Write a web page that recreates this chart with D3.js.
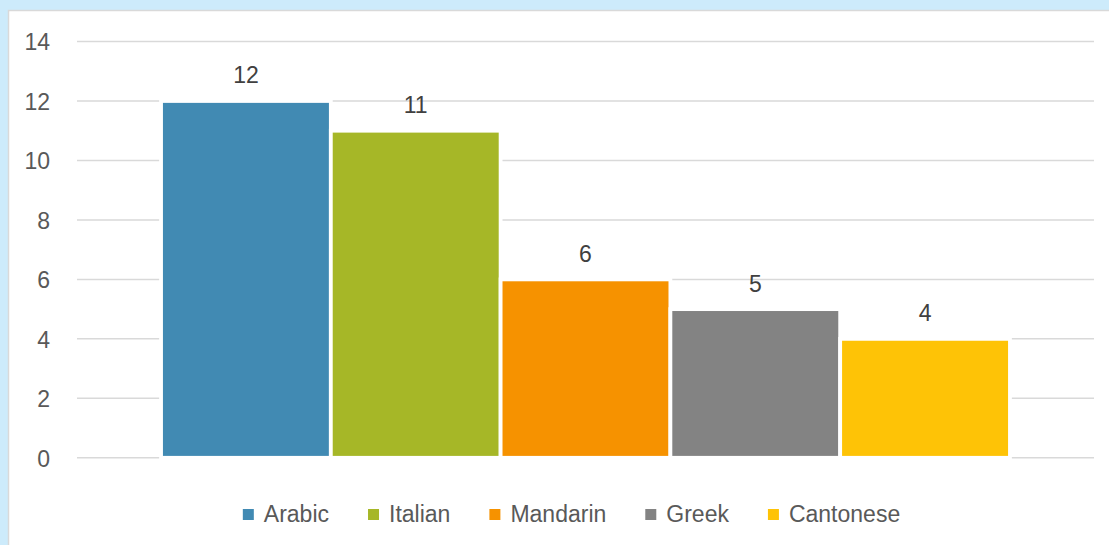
<!DOCTYPE html>
<html>
<head>
<meta charset="utf-8">
<script src="https://cdn.jsdelivr.net/npm/d3@7"></script>
<style>
  html, body { margin: 0; padding: 0; background: #cdebfb; }
  svg { display: block; }
</style>
</head>
<body>
<svg id="chart" width="1109" height="545"></svg>
<script>
const series = ["Arabic", "Italian", "Mandarin", "Greek", "Cantonese"];
const values = [12, 11, 6, 5, 4];
const colors = ["#418ab3", "#a6b727", "#f69200", "#838383", "#fec306"];
const yTicks = [0, 2, 4, 6, 8, 10, 12, 14];

const W = 1109, H = 545;
const svg = d3.select("#chart");
const font = "'Liberation Sans', Arial, sans-serif";
const txt = "#595959";

// background panel
svg.append("rect").attr("x", 0).attr("y", 0).attr("width", W).attr("height", H).attr("fill", "#cdebfb");
svg.append("rect").attr("x", 8.5).attr("y", 10.5).attr("width", W).attr("height", H)
  .attr("fill", "#ffffff").attr("stroke", "#d9d9d9").attr("stroke-width", 1.5);

const plot = { left: 77, right: 1094, top: 41.5, bottom: 457.8 };

const y = d3.scaleLinear().domain([0, 14]).range([plot.bottom, plot.top]);
const group = d3.scaleBand().domain(["all"]).range([plot.left, plot.right]).paddingInner(0).paddingOuter(0.099);
const x = d3.scaleBand().domain(series).range([group("all"), group("all") + group.bandwidth()]).padding(0);

// gridlines
svg.append("g").selectAll("line").data(yTicks).join("line")
  .attr("x1", plot.left).attr("x2", plot.right)
  .attr("y1", d => y(d)).attr("y2", d => y(d))
  .attr("stroke", "#d9d9d9").attr("stroke-width", 1.5);

// y axis labels
const yAxis = d3.axisLeft(y).tickValues(yTicks).tickSize(0).tickPadding(0).tickFormat(d3.format("d"));
const gy = svg.append("g").attr("transform", "translate(50,0)").call(yAxis);
gy.select(".domain").remove();
gy.selectAll("text").attr("font-family", font).attr("font-size", 23).attr("fill", txt).attr("dy", "0.36em");

// bars
svg.append("g").selectAll("rect").data(series).join("rect")
  .attr("x", d => x(d))
  .attr("width", x.bandwidth())
  .attr("y", (d, i) => y(values[i]))
  .attr("height", (d, i) => y(0) - y(values[i]))
  .attr("fill", (d, i) => colors[i])
  .attr("stroke", "#ffffff").attr("stroke-width", 3.8);

// data labels
svg.append("g").selectAll("text").data(series).join("text")
  .attr("x", d => x(d) + x.bandwidth() / 2)
  .attr("y", (d, i) => y(values[i]) - 17.5)
  .attr("text-anchor", "middle")
  .attr("font-family", font).attr("font-size", 23).attr("fill", "#404040")
  .text((d, i) => values[i]);

// legend
const lg = svg.append("g");
const items = lg.selectAll("g").data(series).join("g");
items.append("rect").attr("width", 11).attr("height", 11).attr("y", -11 - 2)
  .attr("fill", (d, i) => colors[i]);
items.append("text").attr("x", 21).attr("y", 0)
  .attr("font-family", font).attr("font-size", 23).attr("fill", txt)
  .text(d => d);
const gap = 39;
let cx = 0;
items.each(function () {
  const g = d3.select(this);
  g.attr("transform", `translate(${cx},522)`);
  cx += 21 + g.select("text").node().getComputedTextLength() + gap;
});
const total = cx - gap;
const start = 571.5 - total / 2;
items.each(function (d, i) {
  const t = d3.select(this).attr("transform").match(/translate\(([^,]+),/)[1];
  d3.select(this).attr("transform", `translate(${start + +t},522)`);
});
</script>
</body>
</html>
